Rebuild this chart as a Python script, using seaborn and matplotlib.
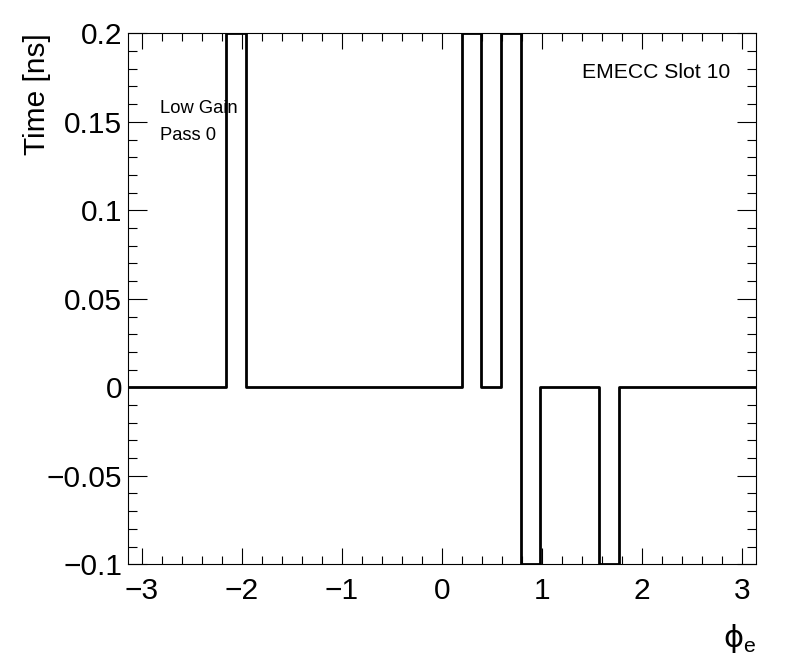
import numpy as np
import pandas as pd
import matplotlib
matplotlib.use("Agg")
import matplotlib.pyplot as plt
import seaborn as sns
from matplotlib.ticker import MultipleLocator, FuncFormatter

# 32 bins in phi from -pi to pi
n_bins = 32
bin_edges = np.linspace(-np.pi, np.pi, n_bins + 1)
bin_centers = 0.5 * (bin_edges[:-1] + bin_edges[1:])
time_ns = [0, 0, 0, 0, 0, 0.2, 0, 0,
           0, 0, 0, 0, 0, 0, 0, 0,
           0, 0.2, 0, 0.2, -0.1, 0, 0, 0,
           -0.1, 0, 0, 0, 0, 0, 0, 0]

df = pd.DataFrame({"phi": bin_centers, "time": time_ns})

sns.set_style("ticks")
plt.rcParams["font.family"] = ["Liberation Sans", "DejaVu Sans"]
plt.rcParams["axes.unicode_minus"] = True
plt.rcParams["text.color"] = "black"
plt.rcParams["mathtext.fontset"] = "custom"
plt.rcParams["mathtext.rm"] = "Liberation Sans"

fig = plt.figure(figsize=(7.96, 6.72), dpi=100)
ax = fig.add_axes([0.1604, 0.1603, 0.95 - 0.1604, 0.9504 - 0.1603])

sns.histplot(data=df, x="phi", weights="time", bins=n_bins,
             binrange=(-np.pi, np.pi),
             element="step", fill=False, color="black", linewidth=2.0, ax=ax)

ax.set_xlim(-np.pi, np.pi)
ax.set_ylim(-0.1, 0.2)
ax.set_xlabel("")
ax.set_ylabel("")

ax.xaxis.set_major_locator(MultipleLocator(1))
ax.xaxis.set_minor_locator(MultipleLocator(0.2))
ax.yaxis.set_major_locator(MultipleLocator(0.05))
ax.yaxis.set_minor_locator(MultipleLocator(0.01))

def fmt(v, pos):
    s = f"{v:.2f}".rstrip("0").rstrip(".")
    if s in ("-0", ""):
        s = "0"
    return s.replace("-", "\u2212")

ax.yaxis.set_major_formatter(FuncFormatter(fmt))
ax.xaxis.set_major_formatter(FuncFormatter(lambda v, p: f"{v:.0f}".replace("-", "\u2212")))

ax.tick_params(which="both", direction="in", top=True, right=True,
               width=0.8, labelsize=21.5, colors="black")
ax.tick_params(axis="x", which="major", length=11.5, pad=9)
ax.tick_params(axis="x", which="minor", length=5.8)
ax.tick_params(axis="y", which="major", length=13.5, pad=4)
ax.tick_params(axis="y", which="minor", length=6.5)
for sp in ax.spines.values():
    sp.set_visible(True)
    sp.set_linewidth(0.8)
    sp.set_color("black")

fig.text(0.047, 0.9504, "Time [ns]", rotation=90, ha="center", va="top", fontsize=21.5)
fig.text(0.95, 0.025, "\u03d5$_\\mathrm{e}$", ha="right", va="bottom", fontsize=22,
         family=["DejaVu Sans"])

ax.text(0.051, 0.859, "Low Gain", transform=ax.transAxes, fontsize=13.2, va="center")
ax.text(0.051, 0.808, "Pass 0", transform=ax.transAxes, fontsize=13.2, va="center")
ax.text(0.9586, 0.926, "EMECC Slot 10", transform=ax.transAxes, fontsize=15.2,
        ha="right", va="center")

fig.savefig("out.png", dpi=100)
